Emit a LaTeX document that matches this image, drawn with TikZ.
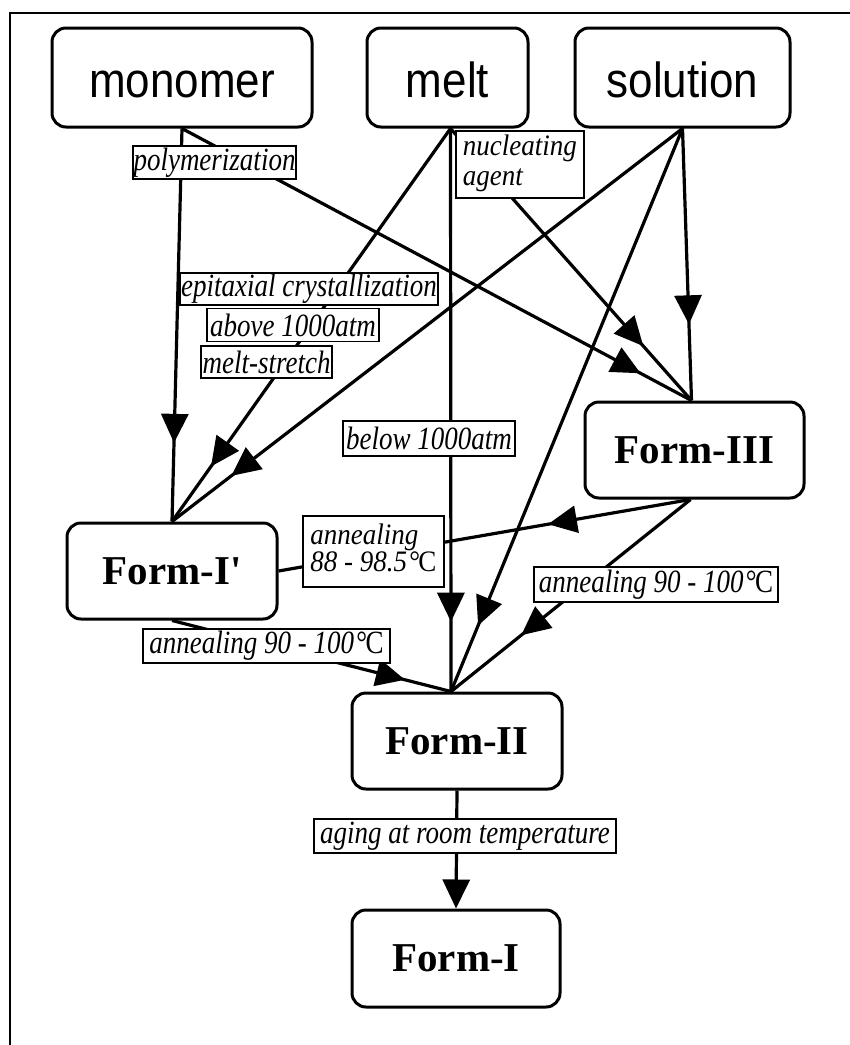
\documentclass[tikz,border=0pt]{standalone}
\usepackage{fontspec}
\setmainfont{Liberation Serif}
\newfontfamily\srcfamily{Liberation Sans}
\newfontfamily\formfamily{Liberation Serif}[Ligatures=TeXOff]
\usetikzlibrary{arrows.meta,decorations.markings}
\newcommand{\srcfont}{\srcfamily\fontsize{44}{48}\selectfont}
\newcommand{\formfont}{\formfamily\fontsize{41}{45}\selectfont\bfseries}
\newcommand{\labfont}{\fontsize{27}{25}\selectfont\itshape}
\newcommand{\degC}{{\upshape\kern0.08em\char"00B0\kern-0.06em C}}
\newcommand{\vs}[1]{\scalebox{1}[1.2]{#1}}
\newcommand{\vsrc}[1]{\scalebox{1}[1.12]{#1}}
\tikzset{
  srcbox/.style={draw, line width=3pt, rounded corners=14pt, minimum height=99pt, inner sep=0pt, text height=40pt, text depth=0pt, font=\srcfont},
  formbox/.style={draw, line width=3pt, rounded corners=14pt, minimum width=210pt, minimum height=96pt, inner sep=0pt, font=\formfont},
  lab/.style={draw, line width=1.8pt, fill=white, inner sep=0pt, font=\labfont, minimum height=33pt},
  edge/.style={line width=3.2pt},
  tri/.tip={Triangle[length=29pt,width=27pt]},
  arr/.style={postaction={decorate,decoration={markings,mark=at position #1 with {\arrow{tri}}}}},
}
\begin{document}
\begin{tikzpicture}[x=1pt,y=-1pt]
\useasboundingbox (0,0) rectangle (850,1045);
% frame
\draw[line width=1.5pt] (10,1045) -- (10,13) -- (850,13);
% main nodes
\node[srcbox, minimum width=260pt] (monomer) at (182,77.5) {\vsrc{monomer}};
\node[srcbox, minimum width=161pt] (melt) at (447.5,77.5) {\vsrc{melt}};
\node[srcbox, minimum width=215pt] (solution) at (682.5,77.5) {\vsrc{solution}};
\node[formbox, minimum width=219pt] (f3) at (694.5,450) {Form-III};
\node[formbox] (f1p) at (172,571) {Form-I'};
\node[formbox] (f2) at (457,741) {Form-II};
\node[formbox, minimum width=208pt, minimum height=97pt] (f1) at (456,958.5) {Form-I};
% connectors
\draw[edge, arr=0.80] (monomer.south) -- (f1p.north);
\draw[edge, arr=0.90] (monomer.south) -- ([xshift=-3pt]f3.north);
\draw[edge, arr=0.86] ([xshift=3pt]melt.south) -- (f1p.north);
\draw[edge, arr=0.876] ([xshift=3pt]melt.south) -- ([xshift=-6pt]f2.north);
\draw[edge, arr=0.80] ([xshift=3pt]melt.south) -- ([xshift=-3pt]f3.north);
\draw[edge, arr=0.72] (solution.south) -- ([xshift=-3pt]f3.north);
\draw[edge, arr=0.884] (solution.south) -- (f1p.north);
\draw[edge, arr=0.883] (solution.south) -- ([xshift=-6pt]f2.north);
\draw[edge, arr=0.346] ([xshift=-4pt]f3.south) -- (f1p.east);
\draw[edge, arr=0.835] (f1p.south) -- ([xshift=-6pt]f2.north);
\draw[edge, arr=0.707] ([xshift=-4pt]f3.south) -- ([xshift=-6pt]f2.north);
\draw[edge, -tri] (f2.south) -- (f1.north);
% labels
\node[lab, minimum width=163pt] (lpoly) at (214.5,162.5) {\vs{polymerization}};
\node[lab, minimum width=128pt, minimum height=67pt, inner xsep=7pt, anchor=west] (lnuc) at (455,164.5) {\scalebox{1}[1.1]{\begin{tabular}{@{}l@{}}nucleating\\[2pt]agent\end{tabular}}};
\node[lab, minimum width=258pt, minimum height=32pt] (lepi) at (309,289) {\vs{epitaxial crystallization}};
\node[lab, minimum width=172pt] (labove) at (293,325) {\vs{above 1000atm}};
\node[lab, minimum width=131pt, minimum height=32pt] (lstretch) at (266.5,362) {\vs{melt-stretch}};
\node[lab, minimum width=172pt, minimum height=35pt] (lbelow) at (429,438.5) {\vs{below 1000atm}};
\node[lab, minimum width=141pt, minimum height=71pt, inner xsep=5pt, anchor=west] (lann1) at (302,551.5) {\scalebox{1}[1.1]{\begin{tabular}{@{}l@{}}annealing\\[-1pt]88 - 98.5\degC\end{tabular}}};
\node[lab, minimum width=247pt, minimum height=34pt] (lann2) at (266.5,646) {\vs{annealing 90 - 100\degC}};
\node[lab, minimum width=244pt, minimum height=35pt] (lann3) at (656,584.5) {\vs{annealing 90 - 100\degC}};
\node[lab, minimum width=302pt, minimum height=34pt] (laging) at (465,836) {\vs{aging at room temperature}};
\end{tikzpicture}
\end{document}
